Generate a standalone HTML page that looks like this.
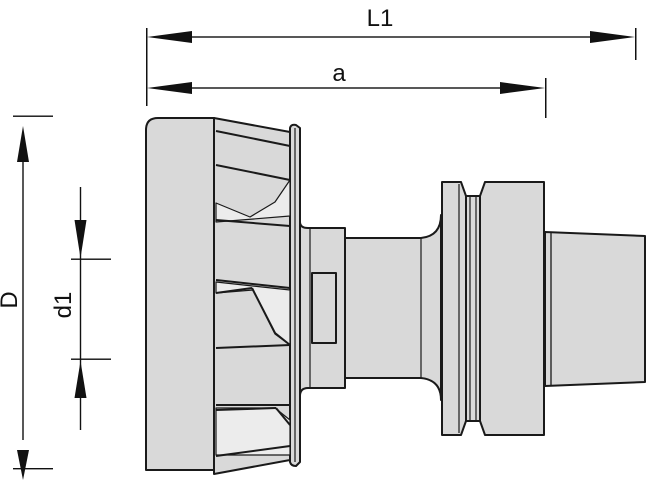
<!DOCTYPE html>
<html><head><style>html,body{margin:0;padding:0;background:#fff}svg{display:block}</style></head><body>
<svg width="659" height="500" viewBox="0 0 659 500" xmlns="http://www.w3.org/2000/svg">
<g fill="#111" stroke="none">
<rect x="146" y="28" width="1.5" height="78"/>
<rect x="635" y="28" width="1.5" height="32"/>
<rect x="180" y="36.3" width="420" height="1.4"/>
<polygon points="147,37 192,31 192,43"/>
<polygon points="635,37 590,31 590,43"/>
<rect x="545" y="78" width="1.5" height="40"/>
<rect x="180" y="87.3" width="330" height="1.4"/>
<polygon points="147,88 192,82 192,94"/>
<polygon points="545,88 500,82 500,94"/>
<rect x="13" y="115.5" width="40" height="1.4"/>
<rect x="13" y="468" width="40" height="1.4"/>
<rect x="22.3" y="150" width="1.4" height="290"/>
<polygon points="23,126 17,162 29,162"/>
<polygon points="23,480 17,450 29,450"/>
<rect x="71" y="258.5" width="40" height="1.4"/>
<rect x="71" y="358.5" width="40" height="1.4"/>
<rect x="79.8" y="187" width="1.4" height="243"/>
<polygon points="80.5,258 74.5,220 86.5,220"/>
<polygon points="80.5,361 74.5,398 86.5,398"/>
</g>
<g font-family="Liberation Sans, sans-serif" font-size="24" fill="#111">
<text x="380" y="26" text-anchor="middle">L1</text>
<text x="339" y="81" text-anchor="middle">a</text>
<text transform="translate(17,300) rotate(-90)" text-anchor="middle">D</text>
<text transform="translate(71,305) rotate(-90)" text-anchor="middle">d1</text>
</g>
<g stroke="#1a1a1a" stroke-width="2" fill="#d9d9d9" stroke-linejoin="round">
<polygon points="545,232 645,236 645,382 545,386"/>
<line x1="551" y1="232" x2="551" y2="386" stroke-width="1.3"/>
<path d="M485,182 L544,182 L544,435 L485,435 L480,421 L480,196 Z"/>
<rect x="466" y="196" width="14" height="225"/>
<line x1="470" y1="196" x2="470" y2="421" stroke-width="1.2"/>
<line x1="476" y1="196" x2="476" y2="421" stroke-width="1.2"/>
<path d="M442,182 L461,182 L466,196 L466,421 L461,435 L442,435 Z"/>
<line x1="459" y1="184" x2="459" y2="433" stroke-width="1.2"/>
<path d="M345,238 L421,238 Q441,236 441,215 L441,400 Q441,380 421,378 L345,378 Z"/>
<line x1="421" y1="238" x2="421" y2="378" stroke-width="1.2"/>
<path d="M300,222 Q300,228 308,228 L345,228 L345,388 L308,388 Q300,388 300,396 Z"/>
<line x1="310" y1="228" x2="310" y2="388" stroke-width="1.2"/>
<rect x="312" y="273" width="24" height="70"/>
<path d="M290,128 Q291,124 296,125 L300,128 L300,462 L296,466 Q291,466 290,462 Z"/>
<line x1="295" y1="128" x2="295" y2="462" stroke-width="1.2"/>
<path d="M214,118 L290,132 L290,460 L214,474 Z"/>
<polygon points="216,203 250,217 275,202 290,180 290,216 216,222" fill="#ececec" stroke-width="1.2"/>
<polygon points="216,282 290,290 290,345 275,334 253,290 216,293" fill="#ececec" stroke-width="1.2"/>
<polygon points="216,408 275,408 290,420 290,455 216,455" fill="#ececec" stroke-width="1.2"/>
<line x1="216" y1="131" x2="290" y2="146"/>
<line x1="216" y1="165" x2="290" y2="180"/>
<line x1="216" y1="220" x2="290" y2="226"/>
<line x1="216" y1="280" x2="290" y2="288"/>
<line x1="216" y1="293" x2="252" y2="288"/>
<line x1="252" y1="288" x2="275" y2="333"/>
<line x1="275" y1="333" x2="290" y2="345"/>
<line x1="216" y1="348" x2="290" y2="345"/>
<line x1="216" y1="405" x2="290" y2="405"/>
<line x1="216" y1="410" x2="276" y2="408"/>
<line x1="276" y1="408" x2="290" y2="425"/>
<line x1="216" y1="456" x2="290" y2="446"/>
<path d="M214,118 L158,118 Q146,118 146,130 L146,470 L214,470 Z"/>
</g>
</svg>
</body></html>
